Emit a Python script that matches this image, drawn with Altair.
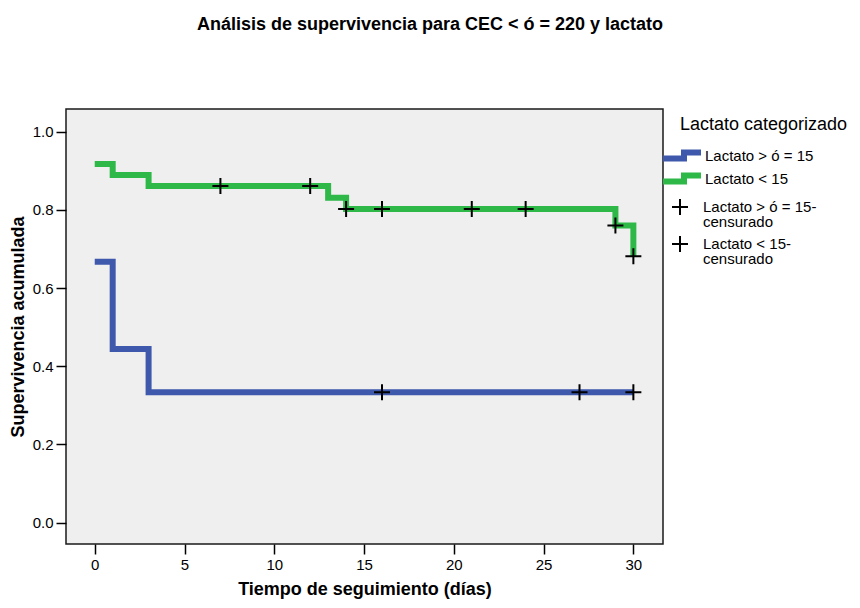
import altair as alt
import pandas as pd

FONT = "Liberation Sans"

# Group labels
grupo_alto = "Lactato > ó = 15"
grupo_bajo = "Lactato < 15"
cens_alto = "Lactato > ó = 15-|censurado"
cens_bajo = "Lactato < 15-|censurado"

# Kaplan-Meier steps: time (days) and cumulative survival
t_alto = [0, 1, 3, 30]
s_alto = [0.667, 0.444, 0.333, 0.333]
t_bajo = [0, 1, 3, 13, 14, 29, 30]
s_bajo = [0.917, 0.889, 0.861, 0.831, 0.802, 0.760, 0.681]

# Censored observations
tc_alto = [16, 27, 30]
sc_alto = [0.333, 0.333, 0.333]
tc_bajo = [7, 12, 14, 16, 21, 24, 29, 30]
sc_bajo = [0.861, 0.861, 0.802, 0.802, 0.802, 0.802, 0.760, 0.681]

x_ticks = [0, 5, 10, 15, 20, 25, 30]
y_ticks = [0.0, 0.2, 0.4, 0.6, 0.8, 1.0]

BLUE = "#3E58AC"
GREEN = "#2EB848"
CROSS = "M-1,0H1M0,-1V1"
STEP = "M-24.5,3H-3.5V-3H13.5"

curvas = pd.DataFrame({
    "t": t_alto + t_bajo,
    "s": s_alto + s_bajo,
    "grupo": [grupo_alto] * len(t_alto) + [grupo_bajo] * len(t_bajo),
})
censuras = pd.DataFrame({
    "t": tc_alto + tc_bajo,
    "s": sc_alto + sc_bajo,
    "cens": [cens_alto] * len(tc_alto) + [cens_bajo] * len(tc_bajo),
})

x_enc = alt.X(
    "t:Q",
    scale=alt.Scale(domain=[-1.6, 31.65], nice=False, zero=False),
    axis=alt.Axis(values=x_ticks, title="Tiempo de seguimiento (días)", format="d"),
)
y_enc = alt.Y(
    "s:Q",
    scale=alt.Scale(domain=[-0.055, 1.058], nice=False, zero=False),
    axis=alt.Axis(values=y_ticks, title="Supervivencia acumulada", format=".1f"),
)

lineas = alt.Chart(curvas).mark_line(
    interpolate="step-after", strokeWidth=6, strokeCap="butt", strokeJoin="miter"
).encode(
    x=x_enc,
    y=y_enc,
    color=alt.Color(
        "grupo:N",
        scale=alt.Scale(domain=[grupo_alto, grupo_bajo], range=[BLUE, GREEN]),
        legend=alt.Legend(
            title="Lactato categorizado",
            orient="none",
            legendX=614,
            legendY=7,
            padding=0,
            titleFontSize=18,
            titleFontWeight="normal",
            titleFont=FONT,
            titleColor="#000000",
            titlePadding=14,
            symbolType=STEP,
            symbolSize=4,
            symbolStrokeWidth=6,
            symbolFillColor="transparent",
            labelFontSize=15,
            labelFont=FONT,
            labelColor="#000000",
            labelOffset=10,
            rowPadding=-11,
        ),
    ),
)

cruces = alt.Chart(censuras).mark_point(
    filled=False, size=256, strokeWidth=2, opacity=1
).encode(
    x="t:Q",
    y="s:Q",
    color=alt.value("#000000"),
    shape=alt.Shape(
        "cens:N",
        scale=alt.Scale(domain=[cens_alto, cens_bajo], range=[CROSS, CROSS]),
        legend=alt.Legend(
            title=None,
            orient="none",
            legendX=605,
            legendY=84,
            padding=0,
            symbolSize=256,
            symbolStrokeWidth=2,
            symbolStrokeColor="#000000",
            symbolFillColor="transparent",
            labelFontSize=15,
            labelFont=FONT,
            labelColor="#000000",
            labelOffset=14,
            clipHeight=28,
            rowPadding=-3,
            labelExpr="split(datum.label, '|')",
        ),
    ),
)

chart = alt.layer(lineas, cruces).properties(
    width=597,
    height=435,
    background="#FFFFFF",
    autosize=alt.AutoSizeParams(type="none"),
    padding={"left": 66, "top": 109, "right": 197, "bottom": 64},
    title=alt.TitleParams(
        "Análisis de supervivencia para CEC < ó = 220 y lactato",
        fontSize=18,
        fontWeight="bold",
        font=FONT,
        color="#000000",
        anchor="middle",
        dx=65.5,
        offset=75,
    ),
).configure(
    style={"guide-label": {"lineHeight": 15}}
).configure_view(
    fill="#EFEFEF", stroke="#1A1A1A", strokeWidth=1.5
).configure_axis(
    grid=False,
    domain=False,
    tickColor="#000000",
    tickWidth=1.5,
    tickSize=10,
    labelFont=FONT,
    labelFontSize=15,
    labelColor="#000000",
    titleFont=FONT,
    titleFontSize=18,
    titleFontWeight="bold",
    titleColor="#000000",
).configure_axisY(
    labelPadding=3, titlePadding=5
).configure_axisX(
    labelPadding=3, titlePadding=8
)

chart.save("out.html", embed_options={"renderer": "svg", "actions": False})
